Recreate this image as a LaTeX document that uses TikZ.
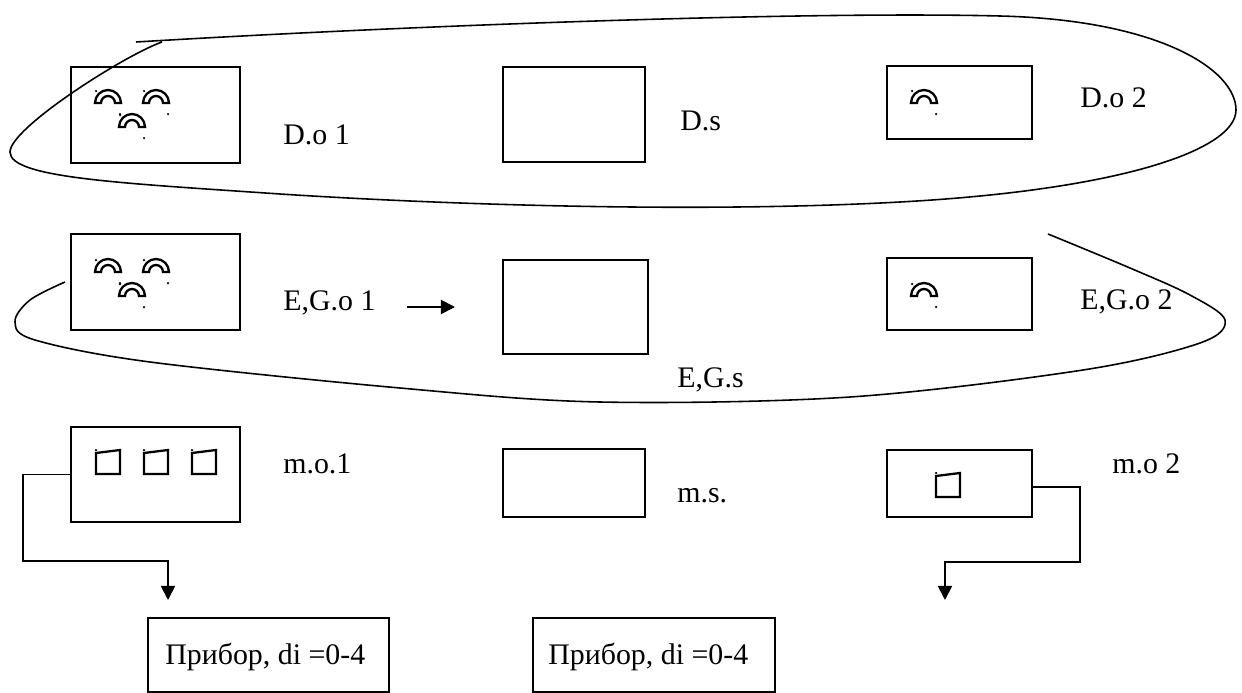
\documentclass[tikz,border=0pt]{standalone}
\usepackage{fontspec}
\setmainfont{Liberation Serif}
\usepackage{tikz}
\usetikzlibrary{positioning}
\usetikzlibrary{arrows.meta}
\usetikzlibrary{math}

\tikzset{
  unitbox/.style={draw, line width=1pt, inner sep=0pt, outer sep=0pt},
  boxtext/.style={anchor=base west, inner sep=0pt, font=\fontsize{17}{20}\selectfont},
  loopline/.style={line width=0.9pt},
  conn/.style={line width=1pt, -{Triangle[length=8pt,width=8pt]}},
  symline/.style={line width=1.3pt, line join=miter}
}

% lamp symbol, #1 = left, #2 = top (pixels)
\newcommand{\lampsym}[2]{%
  \draw[symline] (#1,#2+14) arc[start angle=180,end angle=0,radius=\outerr cm]
    -- ++(-6,0) arc[start angle=0,end angle=180,radius=\innerr cm] -- cycle;
  \fill (#1+1,#2+2) circle (\dotr cm);
  \fill (#1+25,#2+25) circle (\dotr cm);
}

% meter symbol, #1 = left, #2 = top (pixels)
\newcommand{\metersym}[2]{%
  \draw[symline] (#1+1,#2+3) -- (#1+1,#2+24) -- (#1+25,#2+24) -- (#1+25,#2) -- cycle;
  \fill (#1+1,#2) circle (\dotr cm);
}

\begin{document}
\begin{tikzpicture}[x=0.02cm,y=-0.02cm]

  \tikzmath{
    \outerr = 0.26;  % outer radius of lamp arch
    \innerr = 0.14;  % inner radius of lamp arch
    \dotr   = 0.025; % radius of the small dots
  }

  \useasboundingbox (0,0) rectangle (1242,693);

  % first row
  \node[unitbox, minimum width=3.38cm, minimum height=1.92cm] (do1) at (155.5,115) {};
  \node[unitbox, minimum width=2.84cm, minimum height=1.90cm] (ds) at (574,114.5) {};
  \node[unitbox, minimum width=2.90cm, minimum height=1.46cm] (do2) at (959.5,102.5) {};
  \node[boxtext] (do1t) at (283,144) {D.o 1};
  \node[boxtext] (dst) at (680,130) {D.s};
  \node[boxtext] (do2t) at (1080,107) {D.o 2};
  \lampsym{95}{89}
  \lampsym{143}{89}
  \lampsym{119}{113}
  \lampsym{911}{89}

  % second row
  \node[unitbox, minimum width=3.38cm, minimum height=1.92cm] (ego1) at (155.5,282) {};
  \node[unitbox, minimum width=2.90cm, minimum height=1.88cm] (egs) at (575.5,307) {};
  \node[unitbox, minimum width=2.90cm, minimum height=1.44cm] (ego2) at (959.5,294) {};
  \node[boxtext] (ego1t) at (283,310) {E,G.o 1};
  \node[boxtext] (egst) at (677,387) {E,G.s};
  \node[boxtext] (ego2t) at (1080,309) {E,G.o 2};
  \lampsym{95}{258}
  \lampsym{143}{258}
  \lampsym{119}{282}
  \lampsym{911}{282}

  \coordinate (a1) at (407,307);
  \coordinate (a2) at (455,307);
  \draw[conn] (a1) -- (a2);

  % third row
  \node[unitbox, minimum width=3.38cm, minimum height=1.90cm] (mo1) at (155.5,474.5) {};
  \node[unitbox, minimum width=2.84cm, minimum height=1.36cm] (ms) at (574,483) {};
  \node[unitbox, minimum width=2.90cm, minimum height=1.34cm] (mo2) at (959.5,483.5) {};
  \node[boxtext] (mo1t) at (283,473) {m.o.1};
  \node[boxtext] (mst) at (677,502) {m.s.};
  \node[boxtext] (mo2t) at (1112,473) {m.o 2};
  \metersym{95}{450}
  \metersym{143}{450}
  \metersym{191}{450}
  \metersym{935}{473}

  % devices
  \node[unitbox, minimum width=4.82cm, minimum height=1.48cm] (pr1) at (268.5,655) {};
  \node[unitbox, minimum width=4.84cm, minimum height=1.48cm] (pr2) at (654,655) {};
  \node[boxtext] (pr1t) at (165,664) {Прибор, di =0-4};
  \node[boxtext] (pr2t) at (548,664) {Прибор, di =0-4};

  \coordinate (t1) at (168,600);
  \coordinate (t2) at (945,600);
  \draw[conn] (mo1.west) -- ++(-48,0) -- ++(0,86.5) -| (t1);
  \draw[conn] ([yshift=-0.07cm]mo2.east) -- ++(48,0) -- ++(0,75) -| (t2);

  % loops
  \draw[loopline] (136,42) .. controls (400,26) and (800,11) .. (1000,16)
    .. controls (1160,20) and (1236,70) .. (1236,110)
    .. controls (1236,150) and (1120,190) .. (900,202)
    .. controls (700,213) and (450,205) .. (280,194)
    .. controls (120,183) and (10,178) .. (10,152)
    .. controls (10,128) and (125,55) .. (162,42);
  \draw[loopline] plot[smooth, tension=0.55] coordinates {
    (1048,234) (1130,268) (1190,295) (1225,320) (1200,343) (1083,370)
    (850,397) (600,402) (400,388) (150,362) (35,340) (15,322) (30,300)
    (65,282)};

\end{tikzpicture}
\end{document}
